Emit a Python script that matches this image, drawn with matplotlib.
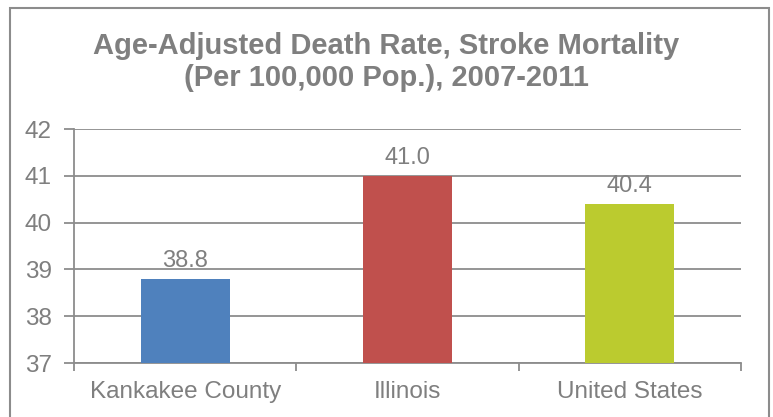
import matplotlib
matplotlib.use("Agg")
import matplotlib.pyplot as plt
from matplotlib.patches import Rectangle

categories = ["Kankakee County", "Illinois", "United States"]
rates = [38.8, 41.0, 40.4]
bar_colors = ["#4F81BD", "#C0504D", "#BBCB2F"]
yticks = [37, 38, 39, 40, 41, 42]
title = "Age-Adjusted Death Rate, Stroke Mortality\n(Per 100,000 Pop.), 2007-2011"

plt.rcParams["font.family"] = ["Liberation Sans", "DejaVu Sans"]
text_gray = "#7F7F7F"
line_gray = "#8C8C8C"

fig = plt.figure(figsize=(7.73, 4.17), dpi=100)
fig.patches.append(Rectangle((10 / 773, -0.05), 759 / 773, 1.05 - 8 / 417,
                             transform=fig.transFigure, fill=False,
                             edgecolor=line_gray, linewidth=1.5))

ax = fig.add_axes([74 / 773, 1 - 363 / 417, 667 / 773, 234 / 417])
x = list(range(len(categories)))
bars = ax.bar(x, rates, width=0.4, color=bar_colors, zorder=3)
for b, v in zip(bars, rates):
    ax.text(b.get_x() + b.get_width() / 2, v + 0.15, f"{v:.1f}",
            ha="center", va="bottom", fontsize=17, color=text_gray)

ax.set_xlim(-0.5, len(categories) - 0.5)
ax.set_ylim(yticks[0], yticks[-1])
ax.set_yticks(yticks)
ax.set_yticklabels([str(t) for t in yticks])
ax.yaxis.grid(True, color=line_gray, linewidth=1.3, zorder=0)
ax.set_axisbelow(True)

ax.set_xticks(x)
ax.set_xticklabels(categories)
ax.set_xticks([-0.5, 0.5, 1.5, 2.5], minor=True)
ax.tick_params(axis="x", which="major", length=0, pad=13,
               labelsize=17.5, labelcolor=text_gray)
ax.tick_params(axis="x", which="minor", length=6, width=1.3, color=line_gray)
ax.tick_params(axis="y", length=7, width=1.3, color=line_gray, pad=9,
               labelsize=17.5, labelcolor=text_gray)

for side in ["top", "right"]:
    ax.spines[side].set_visible(False)
for side in ["left", "bottom"]:
    ax.spines[side].set_color(line_gray)
    ax.spines[side].set_linewidth(1.3)

fig.text(0.5, 1 - 62 / 417, title, ha="center", va="center",
         fontsize=21, fontweight="bold", color=text_gray, linespacing=1.2)

fig.savefig("out.png", dpi=100)
